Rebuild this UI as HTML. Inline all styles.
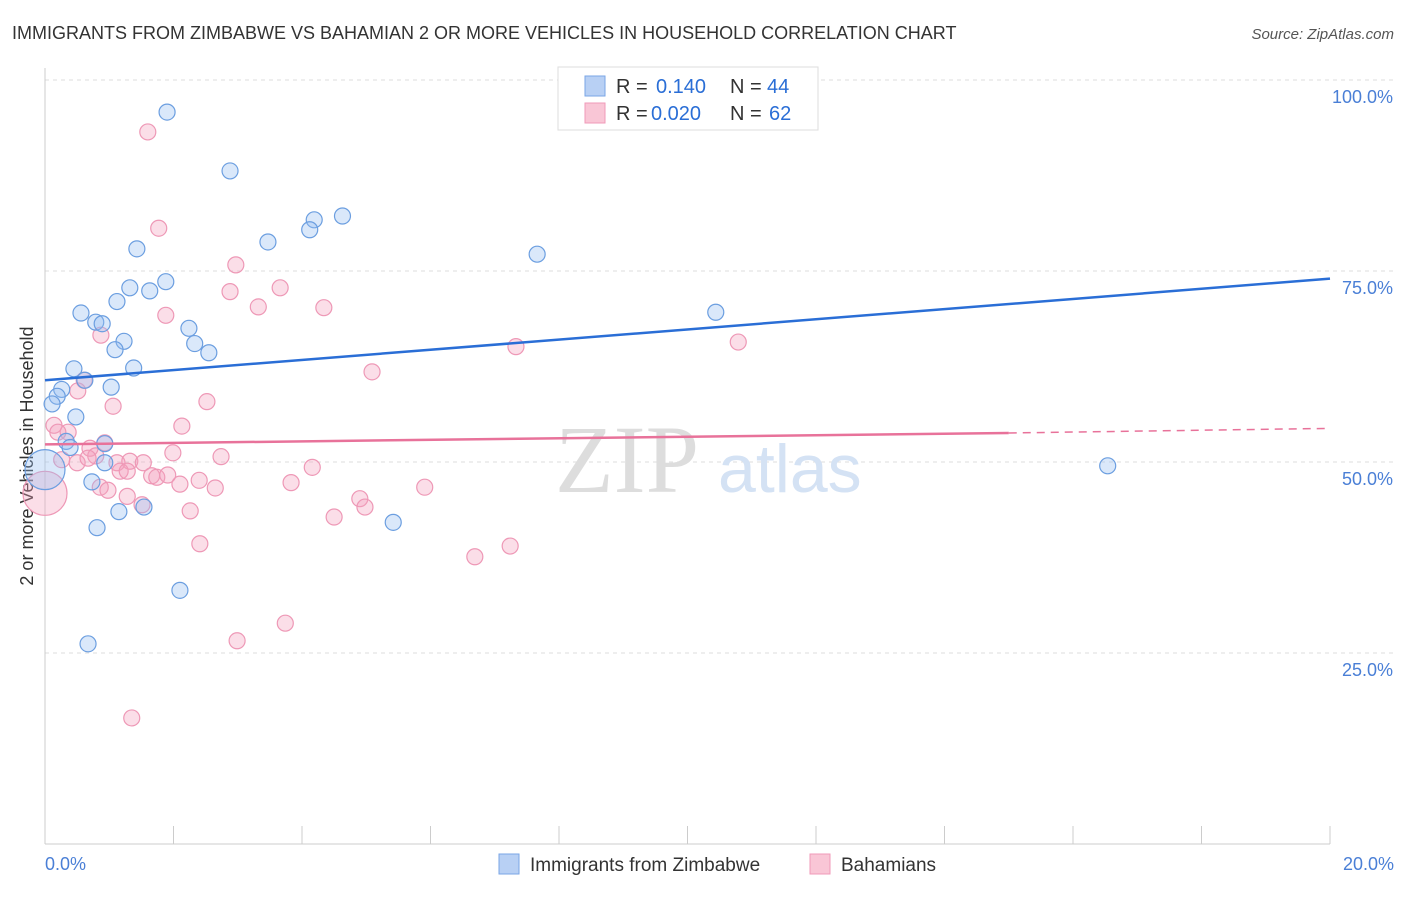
<!DOCTYPE html>
<html><head><meta charset="utf-8"><style>
body{margin:0;background:#fff;font-family:"Liberation Sans",sans-serif;}
</style></head><body>
<svg width="1406" height="892" xmlns="http://www.w3.org/2000/svg" font-family="Liberation Sans, sans-serif">
<text x="12" y="39" font-size="18" fill="#333">IMMIGRANTS FROM ZIMBABWE VS BAHAMIAN 2 OR MORE VEHICLES IN HOUSEHOLD CORRELATION CHART</text>
<text x="1394" y="39" font-size="15" fill="#555" font-style="italic" text-anchor="end">Source: ZipAtlas.com</text>
<g id="grid"></g>
<line x1="45" y1="68" x2="45" y2="844" stroke="#ccc"/>
<line x1="45" y1="844" x2="1330" y2="844" stroke="#ccc"/>
<g id="xticks"></g>
<text x="45" y="870" font-size="18" fill="#4a7fd6">0.0%</text>
<text x="1394" y="870" font-size="18" fill="#4a7fd6" text-anchor="end">20.0%</text>
<text transform="translate(33,456) rotate(-90)" font-size="18" fill="#333" text-anchor="middle">2 or more Vehicles in Household</text>
<text x="555" y="492" font-size="96" fill="#ddd" font-family="Liberation Serif, serif">ZIP</text>
<text x="718" y="492" font-size="68" fill="#d4e2f4">atlas</text>
<g id="pts"></g>
<g>
<rect x="558" y="67" width="260" height="63" fill="#fff" stroke="#ddd"/>
<rect x="585" y="76" width="20" height="20" fill="#b8d0f4" stroke="#7aa6e6"/>
<rect x="585" y="103" width="20" height="20" fill="#f9c6d6" stroke="#f09ab8"/>
<text x="616" y="93" font-size="20" fill="#333">R =</text>
<text x="656" y="93" font-size="20" fill="#2a6ed6">0.140</text>
<text x="730" y="93" font-size="20" fill="#333">N =</text>
<text x="767" y="93" font-size="20" fill="#2a6ed6">44</text>
<text x="616" y="120" font-size="20" fill="#333">R =</text>
<text x="651" y="120" font-size="20" fill="#2a6ed6">0.020</text>
<text x="730" y="120" font-size="20" fill="#333">N =</text>
<text x="769" y="120" font-size="20" fill="#2a6ed6">62</text>
</g>
<g>
<rect x="499" y="854" width="20" height="20" fill="#b8d0f4" stroke="#7aa6e6"/>
<text x="530" y="871" font-size="19" fill="#333">Immigrants from Zimbabwe</text>
<rect x="810" y="854" width="20" height="20" fill="#f9c6d6" stroke="#f09ab8"/>
<text x="841" y="871" font-size="19" fill="#333">Bahamians</text>
</g>
</svg>
<script>
const yTicks=[25,50,75,100];
const yTickLabels=["25.0%","50.0%","75.0%","100.0%"];
const xTicks=[0,2,4,6,8,10,12,14,16,18,20];
const blueX=[1.90,2.88,4.63,4.19,4.12,3.47,1.43,7.66,1.88,1.32,1.63,1.12,0.56,0.79,0.89,2.24,1.23,2.33,1.09,2.55,0.45,1.38,0.62,1.03,0.26,0.19,0.11,0.48,0.33,0.39,0.93,0.93,16.54,0.73,1.54,1.15,5.42,0.81,2.10,0.67,10.44,0.0];
const blueY=[95.8,88.1,82.2,81.7,80.4,78.8,77.9,77.2,73.6,72.8,72.4,71.0,69.5,68.3,68.1,67.5,65.8,65.5,64.7,64.3,62.2,62.3,60.7,59.8,59.5,58.6,57.6,55.9,52.7,51.9,52.4,49.9,49.5,47.4,44.1,43.5,42.1,41.4,33.2,26.2,69.6,49.0];
const pinkX=[1.60,1.77,2.97,3.66,2.88,3.32,4.34,1.88,0.87,7.33,10.79,5.09,0.61,0.51,1.06,2.52,0.14,2.13,0.36,0.20,0.70,0.93,0.50,0.26,0.79,0.67,1.99,2.74,4.16,1.12,1.32,1.53,1.17,1.28,1.66,1.74,1.91,2.40,2.10,3.83,0.86,0.98,1.28,2.65,5.91,4.90,4.98,1.51,2.26,4.50,2.41,7.24,6.69,3.74,2.99,1.35,0.0];
const pinkY=[93.2,80.6,75.8,72.8,72.3,70.3,70.2,69.2,66.6,65.1,65.7,61.8,60.7,59.3,57.3,57.9,54.8,54.7,53.9,53.9,51.8,52.5,49.9,50.3,50.8,50.5,51.2,50.7,49.3,49.9,50.1,49.9,48.8,48.8,48.2,48.0,48.3,47.6,47.1,47.3,46.7,46.3,45.5,46.6,46.7,45.2,44.1,44.4,43.6,42.8,39.3,39.0,37.6,28.9,26.6,16.5,45.9];
const pinkBig=56, blueBig=41;
const X=v=>45+v/20*1285, Y=v=>844-v/100*764;
const NS="http://www.w3.org/2000/svg";
function mk(t,a,p){const e=document.createElementNS(NS,t);for(const k in a)e.setAttribute(k,a[k]);p.appendChild(e);return e;}
const grid=document.getElementById('grid');
yTicks.forEach((t,i)=>{
 const l=mk('line',{x1:45,x2:1394,y1:Y(t),y2:Y(t),stroke:'#ddd','stroke-dasharray':'4,4'},grid);
 
 
 const tx=mk('text',{x:1393,y:Y(t)+23,'font-size':18,fill:'#4a7fd6','text-anchor':'end'},grid);
 tx.textContent=yTickLabels[i];
 
 
});
const xt=document.getElementById('xticks');
xTicks.forEach(t=>{
 const l=mk('line',{x1:X(t),x2:X(t),y1:826,y2:844,stroke:'#ccc'},xt);
 
 
});
const pts=document.getElementById('pts');
pinkX.forEach((x,i)=>{
 const c=mk('circle',{cx:X(x),cy:Y(pinkY[i]),r:i==pinkBig?22:8,fill:'rgba(244,160,190,0.35)',stroke:'#ee98b6','stroke-width':1.2},pts);
 
 
});
blueX.forEach((x,i)=>{
 const c=mk('circle',{cx:X(x),cy:Y(blueY[i]),r:i==blueBig?20:8,fill:'rgba(150,190,240,0.35)',stroke:'#6b9ee0','stroke-width':1.2},pts);
 
 
});
const blueTrend=[60.7,74.0], pinkTrend=[52.3,53.8,54.4];
let l=mk('line',{x1:X(0),y1:Y(blueTrend[0]),x2:X(20),y2:Y(blueTrend[1]),stroke:'#2a6ed6','stroke-width':2.5},pts);


l=mk('line',{x1:X(0),y1:Y(pinkTrend[0]),x2:X(15),y2:Y(pinkTrend[1]),stroke:'#e8729a','stroke-width':2.5},pts);


l=mk('line',{x1:X(15),y1:Y(pinkTrend[1]),x2:X(20),y2:Y(pinkTrend[2]),stroke:'#e8729a','stroke-width':1.5,'stroke-dasharray':'8,6'},pts);


</script>
</body></html>
